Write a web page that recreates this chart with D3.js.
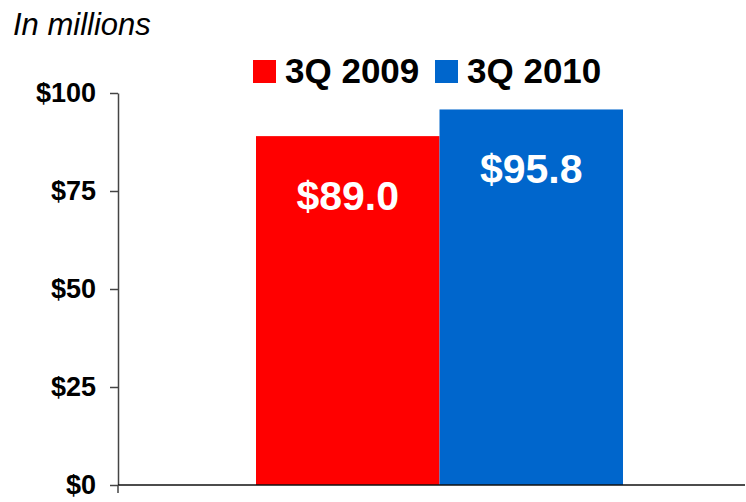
<!DOCTYPE html>
<html>
<head>
<meta charset="utf-8">
<script src="https://cdn.jsdelivr.net/npm/d3@7"></script>
<style>
  body { margin: 0; background: #fff; }
  svg { display: block; font-family: "Liberation Sans", Arial, sans-serif; }
</style>
</head>
<body>
<div id="chart"></div>
<script>
var width = 746, height = 502;

var series = ['3Q 2009', '3Q 2010'];
var values = [89.0, 95.8];
var labels = ['$89.0', '$95.8'];
var colours = ['#ff0000', '#0066cc'];
var ticks = [0, 25, 50, 75, 100];

var svg = d3.select("#chart")
    .append("svg")
    .attr("width", width)
    .attr("height", height);

var yScale = d3.scaleLinear()
    .domain([0, 100])
    .range([485, 93]);

var xScale = d3.scaleBand()
    .domain(series)
    .range([256, 623])
    .padding(0);

// subtitle
svg.append("text")
    .attr("x", 13)
    .attr("y", 35)
    .style("font-size", "31px")
    .style("font-style", "italic")
    .text("In millions");

// legend
var leg = svg.append("g");
var legX = [253, 435];
series.forEach(function(s, i){
    leg.append("rect")
        .attr("x", legX[i])
        .attr("y", 60)
        .attr("width", 23)
        .attr("height", 23)
        .style("fill", colours[i]);
    leg.append("text")
        .attr("x", legX[i] + 32)
        .attr("y", 83)
        .style("font-size", "35px")
        .style("font-weight", "bold")
        .text(s);
});

// bars
svg.selectAll(".bar")
    .data(values)
    .enter()
    .append("rect")
    .attr("class", "bar")
    .attr("x", function(d, i){ return xScale(series[i]); })
    .attr("y", function(d){ return yScale(d); })
    .attr("width", xScale.bandwidth())
    .attr("height", function(d){ return yScale(0) - yScale(d); })
    .style("fill", function(d, i){ return colours[i]; });

svg.selectAll(".val")
    .data(values)
    .enter()
    .append("text")
    .attr("class", "val")
    .attr("x", function(d, i){ return xScale(series[i]) + xScale.bandwidth() / 2; })
    .attr("y", function(d){ return yScale(d) + 74; })
    .attr("text-anchor", "middle")
    .style("font-size", "41px")
    .style("font-weight", "bold")
    .style("fill", "#fff")
    .text(function(d, i){ return labels[i]; });

// y axis
var yAxis = d3.axisLeft(yScale)
    .tickValues(ticks)
    .tickSize(8)
    .tickSizeOuter(0)
    .tickPadding(14)
    .tickFormat(function(d){ return "$" + d; });

var ya = svg.append("g")
    .attr("transform", "translate(118,0)")
    .call(yAxis);
ya.select(".domain").style("stroke", "#444").style("stroke-width", 1.5);
ya.selectAll(".tick line").style("stroke", "#444").style("stroke-width", 1.5);
ya.selectAll(".tick text")
    .style("font-size", "27px")
    .style("font-weight", "bold")
    .style("font-family", '"Liberation Sans", Arial, sans-serif')
    .style("fill", "#000");

// x axis line
svg.append("line")
    .attr("x1", 118).attr("x2", 745)
    .attr("y1", yScale(0)).attr("y2", yScale(0))
    .style("stroke", "#111")
    .style("stroke-width", 1.5);
svg.append("line")
    .attr("x1", 118).attr("x2", 118)
    .attr("y1", yScale(0)).attr("y2", yScale(0) + 8)
    .style("stroke", "#444")
    .style("stroke-width", 1.5);
</script>
</body>
</html>
